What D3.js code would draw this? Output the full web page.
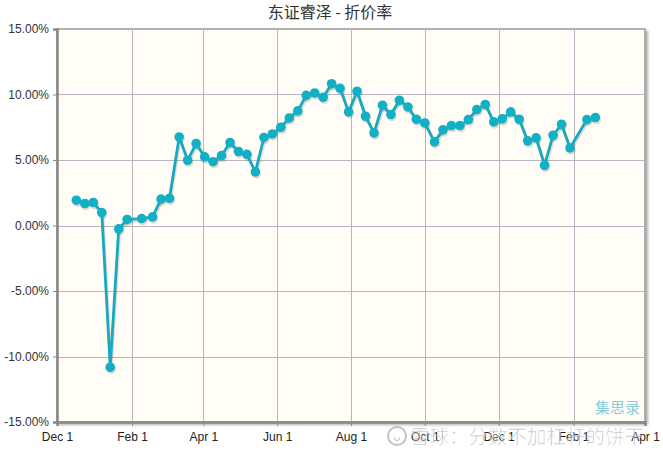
<!DOCTYPE html>
<html>
<head>
<meta charset="utf-8">
<script src="https://cdn.jsdelivr.net/npm/d3@7"></script>
<style>
  html, body { margin: 0; padding: 0; background: #fff; }
  svg { display: block; }
</style>
</head>
<body>
<svg id="chart" width="663" height="453"></svg>
<script>
const titleText = "东证睿泽 - 折价率";
const dates = [
  "2016-12-17","2016-12-24","2016-12-31","2017-01-07","2017-01-14","2017-01-21","2017-01-28",
  "2017-02-09","2017-02-18","2017-02-25","2017-03-04","2017-03-12","2017-03-19","2017-03-26",
  "2017-04-02","2017-04-09","2017-04-16","2017-04-23","2017-04-30","2017-05-07","2017-05-14",
  "2017-05-21","2017-05-28","2017-06-04","2017-06-11","2017-06-18","2017-06-25","2017-07-02",
  "2017-07-09","2017-07-16","2017-07-23","2017-07-30","2017-08-06","2017-08-13","2017-08-20",
  "2017-08-27","2017-09-03","2017-09-10","2017-09-17","2017-09-24","2017-10-01","2017-10-09",
  "2017-10-16","2017-10-23","2017-10-30","2017-11-06","2017-11-13","2017-11-20","2017-11-27",
  "2017-12-04","2017-12-11","2017-12-18","2017-12-25","2018-01-01","2018-01-08","2018-01-15",
  "2018-01-22","2018-01-29","2018-02-12","2018-02-19"
];
const discountRate = [
  1.93, 1.68, 1.76, 0.99, -10.82, -0.26, 0.46,
  0.53, 0.66, 2.01, 2.08, 6.76, 4.98, 6.26,
  5.24, 4.87, 5.34, 6.34, 5.65, 5.43, 4.09,
  6.72, 6.99, 7.50, 8.21, 8.75, 9.93, 10.12,
  9.79, 10.82, 10.47, 8.67, 10.25, 8.34, 7.07,
  9.18, 8.47, 9.56, 9.05, 8.11, 7.83, 6.38,
  7.30, 7.63, 7.63, 8.09, 8.85, 9.24, 7.91,
  8.14, 8.67, 8.11, 6.46, 6.69, 4.60, 6.89,
  7.73, 5.92, 8.09, 8.24
];
const xTickDates = ["2016-12-01","2017-02-01","2017-04-01","2017-06-01","2017-08-01","2017-10-01","2017-12-01","2018-02-01","2018-04-01"];
const xTickLabels = ["Dec 1","Feb 1","Apr 1","Jun 1","Aug 1","Oct 1","Dec 1","Feb 1","Apr 1"];
const yTicks = [15, 10, 5, 0, -5, -10, -15];
const yTickLabels = ["15.00%","10.00%","5.00%","0.00%","-5.00%","-10.00%","-15.00%"];
const watermark1 = "集思录";
const watermark2 = "雪球：分数不加杠杆的饼干";

const parse = d3.utcParse("%Y-%m-%d");
const data = dates.map((d, i) => ({ date: parse(d), value: discountRate[i] }));

const svg = d3.select("#chart");
const W = 663, H = 453;
const m = { left: 57, right: 18, top: 29, bottom: 31 };
const x0 = m.left, x1 = W - m.right, y0 = m.top, y1 = H - m.bottom;

const x = d3.scaleUtc().domain([parse(xTickDates[0]), parse(xTickDates[xTickDates.length - 1])]).range([x0, x1]);
const y = d3.scaleLinear().domain([-15, 15]).range([y1, y0]);

const defs = svg.append("defs");
const filt = defs.append("filter").attr("id", "frameShadow").attr("x", "-5%").attr("y", "-5%").attr("width", "110%").attr("height", "110%");
filt.append("feGaussianBlur").attr("in", "SourceAlpha").attr("stdDeviation", 1.5);
filt.append("feOffset").attr("dx", 2).attr("dy", 2).attr("result", "ob");
filt.append("feComponentTransfer").append("feFuncA").attr("type", "linear").attr("slope", 0.35);
const fm = filt.append("feMerge");
fm.append("feMergeNode");
fm.append("feMergeNode").attr("in", "SourceGraphic");

// plot background with shadow
svg.append("rect")
  .attr("x", x0).attr("y", y0).attr("width", x1 - x0).attr("height", y1 - y0)
  .attr("fill", "#fffdf5").attr("stroke", "#999").attr("stroke-width", 1.5)
  .attr("filter", "url(#frameShadow)");

// title
svg.append("text")
  .attr("x", 330).attr("y", 18)
  .attr("text-anchor", "middle")
  .attr("font-family", "'Noto Sans CJK SC', sans-serif")
  .attr("font-size", 16)
  .attr("fill", "#333")
  .text(titleText);

// grid
const grid = svg.append("g").attr("stroke", "#b6b8c0").attr("stroke-width", 1);
xTickDates.slice(1, -1).forEach(d => {
  const xx = Math.round(x(parse(d))) + 0.5;
  grid.append("line").attr("x1", xx).attr("x2", xx).attr("y1", y0).attr("y2", y1);
});
yTicks.slice(1, -1).forEach(v => {
  const yy = Math.round(y(v)) + 0.5;
  grid.append("line").attr("x1", x0).attr("x2", x1).attr("y1", yy).attr("y2", yy);
});

// axes
const yAxis = d3.axisLeft(y).tickValues(yTicks).tickSize(4).tickPadding(4)
  .tickFormat((d, i) => yTickLabels[i]);
const gy = svg.append("g").attr("transform", `translate(${x0},0)`).call(yAxis);
gy.select(".domain").attr("stroke", "#888").attr("stroke-width", 2.5);
gy.selectAll(".tick line").attr("stroke", "#888");
gy.selectAll(".tick text").attr("font-family", "'Liberation Sans', Arial, sans-serif").attr("font-size", 12).attr("fill", "#333");

const xAxis = d3.axisBottom(x).tickValues(xTickDates.map(parse)).tickSize(4).tickPadding(6)
  .tickFormat((d, i) => xTickLabels[i]);
const gx = svg.append("g").attr("transform", `translate(0,${y1})`).call(xAxis);
gx.select(".domain").attr("stroke", "#888").attr("stroke-width", 2.5);
gx.selectAll(".tick line").attr("stroke", "#888");
gx.selectAll(".tick text").attr("font-family", "'Liberation Sans', Arial, sans-serif").attr("font-size", 12).attr("fill", "#222");

// watermark 集思录
svg.append("text")
  .attr("x", x1 - 5).attr("y", y1 - 9)
  .attr("text-anchor", "end")
  .attr("font-family", "'Noto Sans CJK SC', sans-serif")
  .attr("font-size", 15)
  .attr("fill", "#8ccad8")
  .text(watermark1);

// series
const line = d3.line().x(d => x(d.date)).y(d => y(d.value));
const series = svg.append("g");
series.append("path").datum(data)
  .attr("d", line).attr("fill", "none")
  .attr("stroke", "rgba(0,0,0,0.13)").attr("stroke-width", 3)
  .attr("transform", "translate(1,2)");
series.selectAll("circle.sh").data(data).join("circle")
  .attr("class", "sh")
  .attr("cx", d => x(d.date) + 1).attr("cy", d => y(d.value) + 2).attr("r", 4.8)
  .attr("fill", "rgba(0,0,0,0.13)");
series.append("path").datum(data)
  .attr("d", line).attr("fill", "none")
  .attr("stroke", "#17a9bf").attr("stroke-width", 2.8)
  .attr("stroke-linejoin", "round");
series.selectAll("circle.pt").data(data).join("circle")
  .attr("class", "pt")
  .attr("cx", d => x(d.date)).attr("cy", d => y(d.value)).attr("r", 4.8)
  .attr("fill", "#12b0c4");

// xueqiu watermark
const wm = svg.append("g").attr("opacity", 0.6);
wm.append("circle").attr("cx", 397).attr("cy", 436).attr("r", 9)
  .attr("fill", "none").attr("stroke", "#999").attr("stroke-width", 2);
wm.append("text").attr("x", 397).attr("y", 441).attr("text-anchor", "middle")
  .attr("font-family", "'DejaVu Sans', sans-serif").attr("font-size", 12).attr("fill", "#999").text("ᴗ");
wm.append("text")
  .attr("x", 410).attr("y", 444)
  .attr("font-family", "'Noto Sans CJK SC', sans-serif")
  .attr("font-size", 19.5)
  .attr("fill", "#a0a0a0")
  .attr("stroke", "#fff").attr("stroke-width", 0.6)
  .text(watermark2);
</script>
</body>
</html>
